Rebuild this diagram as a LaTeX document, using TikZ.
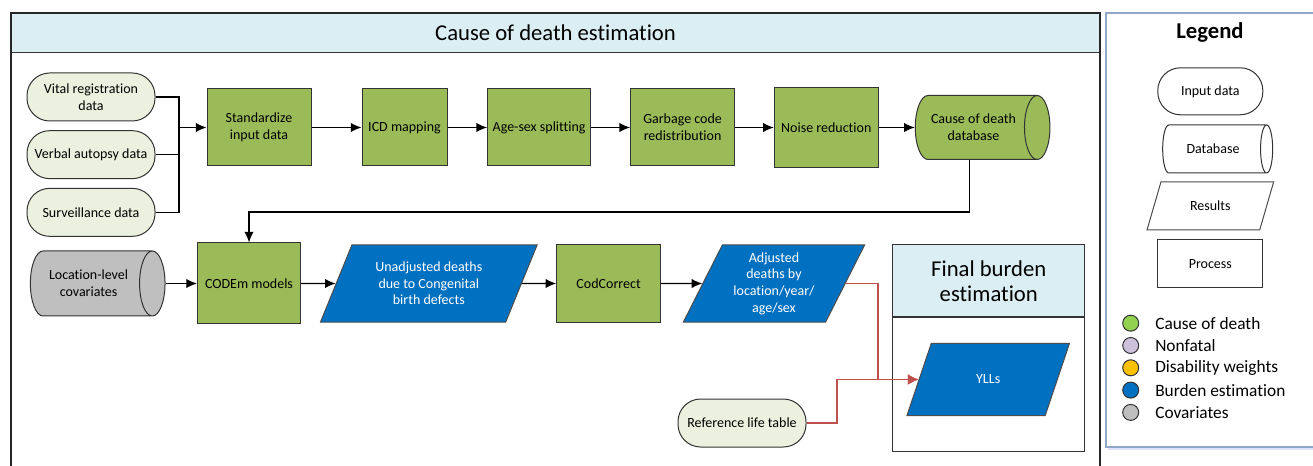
\documentclass[tikz,border=0pt]{standalone}
\usepackage{fontspec}
\setmainfont{Carlito}[Ligatures=NoCommon]
\usepackage{tikz}
\usetikzlibrary{shapes,arrows.meta,positioning,calc}

\definecolor{procgreen}{HTML}{9BBB59}
\definecolor{inpgreen}{HTML}{EBF1DE}
\definecolor{bandblue}{HTML}{DAEEF3}
\definecolor{resblue}{HTML}{0070C0}
\definecolor{covgrey}{HTML}{BFBFBF}
\definecolor{linkred}{HTML}{C0504D}
\definecolor{legborder}{HTML}{8FA8C8}
\definecolor{dotgreen}{HTML}{92D050}
\definecolor{dotlilac}{HTML}{CCC0DA}
\definecolor{dotgold}{HTML}{FFC000}

\newcommand{\boxfont}{\fontsize{10.5}{12.5}\selectfont}
\newcommand{\titlefont}{\fontsize{17}{18.75}\selectfont}
\newcommand{\legfont}{\fontsize{13}{15}\selectfont}

\tikzstyle{line} = [draw, line width=0.9pt, -{Latex[length=8pt,width=7pt]}]
\tikzstyle{wire} = [draw, line width=0.9pt]
\tikzstyle{redline} = [draw=linkred, line width=1.4pt, -{Latex[length=8pt,width=8pt]}]
\tikzstyle{process} = [draw=black!80, fill=procgreen, line width=0.75pt, minimum height=57.75pt, align=center, inner sep=2pt, font=\boxfont]
\tikzstyle{inputdata} = [draw=black!80, fill=inpgreen, line width=0.75pt, rounded corners=17pt, minimum width=96pt, minimum height=36pt, align=center, inner sep=2pt, font=\boxfont]
\tikzstyle{database} = [draw=black!80, line width=0.75pt, cylinder, shape aspect=0.8, align=center, inner sep=2pt, font=\boxfont]
\tikzstyle{results} = [draw=black!70, fill=resblue, text=white, line width=0.75pt, trapezium, trapezium left angle=64, trapezium right angle=116, trapezium stretches=true, minimum height=57.75pt, align=center, inner sep=1pt, font=\boxfont]
\tikzstyle{band} = [draw=black!80, fill=bandblue, line width=0.75pt, align=center, font=\titlefont]
\tikzstyle{legdot} = [draw=black!80, circle, minimum size=12pt, inner sep=0pt, line width=0.75pt]
\tikzstyle{legtext} = [anchor=west, inner sep=0pt, font=\legfont]

\begin{document}
\begin{tikzpicture}[x=0.75pt, y=-0.75pt, auto]
    \useasboundingbox (0,0) rectangle (1313,466);

    % main frame
    \node [band, minimum width=816.75pt, minimum height=30pt] (cdhead) at (555.5,33) {Cause of death estimation};
    \draw [line width=1pt, black!85] (11,466) -- (11,13) -- (1100,13) -- (1100,466);

    % input data
    \node [inputdata] (vr) at (91,97) {Vital registration\\data};
    \node [inputdata, below=6.5pt of vr] (va) {Verbal autopsy data};
    \node [inputdata, below=6.5pt of va] (sv) {Surveillance data};
    \coordinate (bus) at (179,127.5);

    % first row
    \node [process, minimum width=78pt] (std) at (259,127.5) {Standardize\\input data};
    \node [process, minimum width=63.75pt, right=37.5pt of std] (icd) {ICD mapping};
    \node [process, minimum width=77.25pt, right=29.7pt of icd] (age) {Age-sex splitting};
    \node [process, minimum width=78pt, right=29.25pt of age] (gc) {Garbage code\\redistribution};
    \node [process, minimum width=78pt, minimum height=60pt, right=29pt of gc] (nr) {Noise reduction};
    \node [database, fill=procgreen, minimum height=101pt, minimum width=48pt, right=27pt of nr] (db) {Cause of death\\database};

    % second row
    \node [process, minimum width=77.25pt, minimum height=60.75pt] (codem) at (249,283.5) {CODEm models};
    \node [database, fill=covgrey, minimum height=101pt, minimum width=48.75pt, left=23.6pt of codem] (cov) {Location-level\\covariates};
    \node [results, minimum width=162.6pt, right=26pt of codem] (unadj) {Unadjusted deaths\\due to Congenital\\birth defects};
    \node [process, minimum width=77.8pt, minimum height=58pt, right=25.7pt of unadj] (codc) {CodCorrect};
    \node [results, minimum width=136pt, right=31pt of codc] (adj) {Adjusted\\deaths by\\location/year/\\age/sex};

    % final burden estimation
    \node [band, minimum width=143.8pt, minimum height=54pt] (fbhead) at (988.75,281) {Final burden\\estimation};
    \node [draw=black!80, line width=0.75pt, minimum width=143.8pt, minimum height=99.75pt, below=0pt of fbhead] (fbbody) {};
    \node [results, minimum width=122pt, minimum height=54.3pt] (ylls) at (988.2,379.5) {YLLs};
    \node [inputdata] (ref) at (742,423) {Reference life table};

    % connectors
    \foreach \src in {vr, sv}
        \path [wire] (\src.east) -| (bus);
    \path [wire] (va.east) -- (va.east -| bus);
    \path [line] (bus) -- (std);
    \foreach \a/\b in {std/icd, icd/age, age/gc, gc/nr, nr/db, cov/codem, codem/unadj, unadj/codc, codc/adj}
        \path [line] (\a) -- (\b);
    \path [line] ([xshift=-3pt]db.south) -- ++(0,52) -| (codem.north);
    \path [redline] (adj.east) -- ++(32,0) |- (ylls.west);
    \path [redline] (ref.east) -- ++(30.4,0) |- (ylls.west);

    % legend
    \draw [blue!12, line width=2pt] (1108,449) -- (1313,449);
    \draw [legborder, line width=1pt] (1313,13) -- (1106,13) -- (1106,447) -- (1313,447);
    \node [font=\fontsize{17}{19}\selectfont\bfseries] (legtitle) at (1210,32) {Legend};
    \node [inputdata, fill=white, minimum width=78.75pt, minimum height=35.25pt] (leginp) at (1210.3,91.3) {Input data};
    \node [database, fill=white, minimum height=82.5pt, minimum width=36pt] (legdb) at (1213,149) {Database};
    \node [results, fill=white, text=black, minimum width=95.25pt, minimum height=36pt] (legres) at (1210.3,206) {Results};
    \node [process, fill=white, minimum width=78.75pt, minimum height=36pt] (legproc) at (1210.3,264) {Process};
    \foreach \c/\t [count=\i] in {dotgreen/Cause of death, dotlilac/Nonfatal, dotgold/Disability weights, resblue/Burden estimation, covgrey/Covariates} {
        \node [legdot, fill=\c] (dot\i) at (1130.7,{300.9+22.3*\i}) {};
        \node [legtext] (lab\i) at (1155,{300.9+22.3*\i}) {\t};
    }
\end{tikzpicture}
\end{document}
